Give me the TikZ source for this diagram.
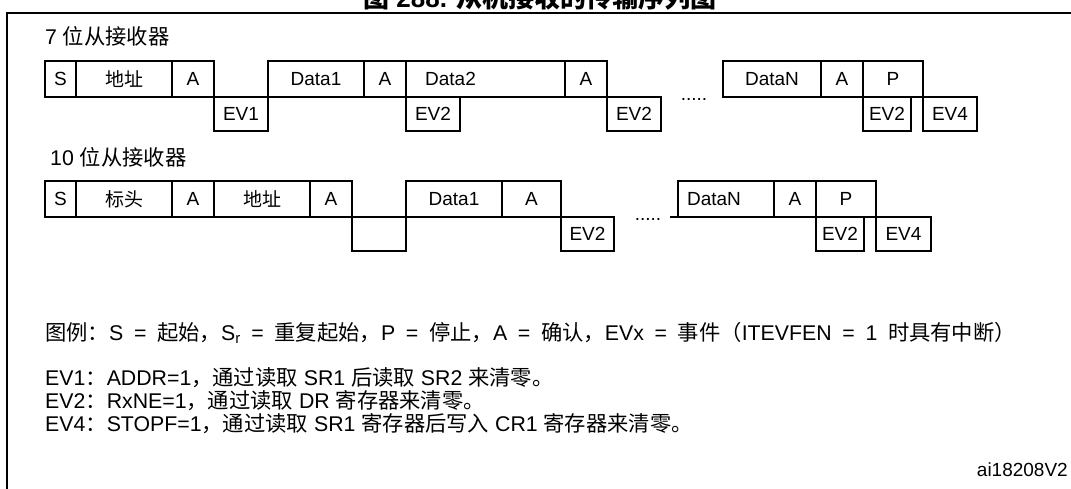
\documentclass[tikz,border=0pt]{standalone}
\usepackage{fontspec}
\setmainfont{Liberation Sans}
\newfontfamily\cjk{Noto Sans CJK SC}
\usetikzlibrary{positioning}
\newcommand{\zh}[1]{{\cjk #1}}
\newcommand{\boxfont}{\fontsize{19}{22}\selectfont}
\newcommand{\bodyfont}{\fontsize{21.3}{25}\selectfont}

\begin{document}
\begin{tikzpicture}[
    x=1pt, y=-1pt,
    cell/.style={draw,line width=2pt,outer sep=0pt,inner sep=0pt,minimum height=36,font=\boxfont},
    evcell/.style={cell,minimum height=34},
    caption/.style={anchor=base west,inner sep=0pt,font=\bodyfont},
    dots/.style={anchor=base,inner sep=0pt,font=\boxfont}
  ]
  \useasboundingbox (0,0) rectangle (1071,489);
  \clip (0,0) rectangle (1071,489);

  %% Title and frame
  \node[anchor=base,inner sep=0pt,font=\bfseries\fontsize{26}{30}\selectfont] (title) at (540,8)
    {\zh{图} 288. \zh{从机接收的传输序列图}};
  \draw[line width=2.4pt] (7,13) rectangle (1100,520);

  %% 7-bit slave receiver
  \node[caption] (head7) at (45,45) {7 \zh{位从接收器}};
  \node[cell,minimum width=31,anchor=north west] (r1s) at (45,61) {S};
  \node[cell,minimum width=96,right=0pt of r1s] (r1addr) {\zh{地址}};
  \node[cell,minimum width=42,right=0pt of r1addr] (r1a1) {A};
  \node[evcell,minimum width=54,anchor=north west] (r1ev1) at (r1a1.south east) {EV1};
  \node[cell,minimum width=96,right=54pt of r1a1] (r1d1) {Data1};
  \node[cell,minimum width=42,right=0pt of r1d1] (r1a2) {A};
  \node[cell,minimum width=159,right=0pt of r1a2,
        label={[xshift=-35pt,font=\boxfont]center:Data2}] (r1d2) {};
  \node[evcell,minimum width=54,anchor=north west] (r1ev2a) at (r1d2.south west) {EV2};
  \node[cell,minimum width=42,right=0pt of r1d2] (r1a3) {A};
  \node[evcell,minimum width=54,anchor=north west] (r1ev2b) at (r1a3.south east) {EV2};
  \node[dots] (r1dots) at (694,101) {.....};
  \node[cell,minimum width=98,right=116pt of r1a3] (r1dn) {DataN};
  \node[cell,minimum width=42,right=0pt of r1dn] (r1a4) {A};
  \node[cell,minimum width=60,right=0pt of r1a4] (r1p) {P};
  \node[evcell,minimum width=48,anchor=north west] (r1ev2c) at (r1p.south west) {EV2};
  \node[evcell,minimum width=54,anchor=north west] (r1ev4) at (r1p.south east) {EV4};

  %% 10-bit slave receiver
  \node[caption] (head10) at (50,166) {10 \zh{位从接收器}};
  \node[cell,minimum width=31,anchor=north west] (r2s) at (45,181) {S};
  \node[cell,minimum width=96,right=0pt of r2s] (r2hdr) {\zh{标头}};
  \node[cell,minimum width=42,right=0pt of r2hdr] (r2a1) {A};
  \node[cell,minimum width=96,right=0pt of r2a1] (r2addr) {\zh{地址}};
  \node[cell,minimum width=42,right=0pt of r2addr] (r2a2) {A};
  \node[evcell,minimum width=54,anchor=north west] (r2gap) at (r2a2.south east) {};
  \node[cell,minimum width=96,right=54pt of r2a2] (r2d1) {Data1};
  \node[cell,minimum width=59,right=0pt of r2d1] (r2a3) {A};
  \node[evcell,minimum width=53,anchor=north west] (r2ev2a) at (r2a3.south east) {EV2};
  \node[dots] (r2dots) at (648,221) {.....};
  \node[cell,minimum width=96,right=117pt of r2a3,
        label={[xshift=-12pt,font=\boxfont]center:DataN}] (r2dn) {};
  \coordinate (r2lead) at (670,217);
  \draw[line width=2pt] (r2lead) -- (r2dn.south west);
  \node[cell,minimum width=42,right=0pt of r2dn] (r2a4) {A};
  \node[cell,minimum width=60,right=0pt of r2a4] (r2p) {P};
  \node[evcell,minimum width=48,anchor=north west] (r2ev2b) at (r2p.south west) {EV2};
  \node[evcell,minimum width=55,anchor=north west] (r2ev4) at (r2p.south east) {EV4};

  %% Legend
  \node[caption] (legend) at (45,340) {\spaceskip=10.7pt\relax
    \zh{图例：}S = \zh{起始，}S\textsubscript{r} = \zh{重复起始，}P = \zh{停止，}A = \zh{确认，}EVx = \zh{事件（}ITEVFEN = 1 \zh{时具有中断）}};
  \node[caption] (ev1note) at (45,385) {EV1\zh{：}ADDR=1\zh{，通过读取} SR1 \zh{后读取} SR2 \zh{来清零。}};
  \node[caption] (ev2note) at (45,408) {EV2\zh{：}RxNE=1\zh{，通过读取} DR \zh{寄存器来清零。}};
  \node[caption] (ev4note) at (45,431) {EV4\zh{：}STOPF=1\zh{，通过读取} SR1 \zh{寄存器后写入} CR1 \zh{寄存器来清零。}};
  \node[anchor=base east,inner sep=0pt,font=\boxfont] (docref) at (1068,476) {ai18208V2};
\end{tikzpicture}
\end{document}
